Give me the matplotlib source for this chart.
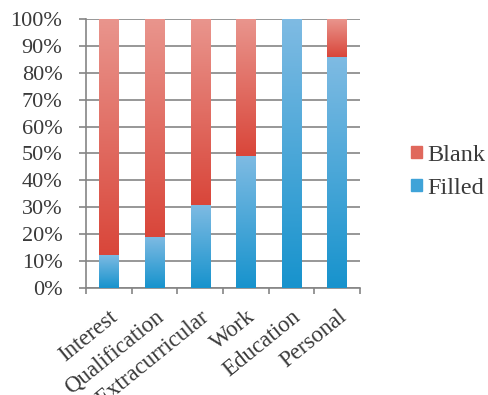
import matplotlib
matplotlib.use("Agg")
import matplotlib.pyplot as plt
import numpy as np
from matplotlib.colors import LinearSegmentedColormap
from matplotlib.patches import Patch

categories = ["Interest", "Qualification", "Extracurricular", "Work", "Education", "Personal"]
filled = [12.3, 19.1, 30.9, 49.2, 100.0, 85.9]
blank = [100 - v for v in filled]
yticks = [0, 10, 20, 30, 40, 50, 60, 70, 80, 90, 100]

plt.rcParams['font.family'] = 'serif'
plt.rcParams['font.serif'] = ['Liberation Serif', 'DejaVu Serif']

fig = plt.figure(figsize=(4.89, 3.95), dpi=100)
ax = fig.add_axes([0.176, 0.271, 0.56, 0.681])

x = np.arange(len(categories))
w = 0.42
b1 = ax.bar(x, filled, w, color="#3fa3d8", label="Filled", zorder=2)
b2 = ax.bar(x, blank, w, bottom=filled, color="#e0685c", label="Blank", zorder=2)

blue_cm = LinearSegmentedColormap.from_list("b", ["#1793cd", "#7fbbe3"])
red_cm = LinearSegmentedColormap.from_list("r", ["#d9463a", "#e9958d"])
grad = np.linspace(0, 1, 256).reshape(-1, 1)
for bars, cm in ((b1, blue_cm), (b2, red_cm)):
    for p in bars:
        x0, y0 = p.get_x(), p.get_y()
        ww, hh = p.get_width(), p.get_height()
        if hh <= 0:
            continue
        im = ax.imshow(grad, cmap=cm, aspect='auto', origin='lower',
                       extent=[x0, x0 + ww, y0, y0 + hh], zorder=3)
        im.set_clip_path(p)

ax.set_xlim(-0.5, len(categories) - 0.5)
ax.set_ylim(0, 100)
ax.set_yticks(yticks)
ax.set_yticklabels([f"{t}%" for t in yticks], fontsize=16, color="#3a3a3a")
ax.yaxis.grid(True, color="#858585", linewidth=1.2, zorder=1)
ax.set_axisbelow(True)
ax.tick_params(axis='y', length=5, color="#858585", width=1.2, pad=12)

ax.set_xticks(np.arange(len(categories) + 1) - 0.5, minor=False)
ax.set_xticklabels([])
ax.set_xticks(x, minor=True)
ax.set_xticklabels(categories, minor=True, rotation=39, ha='right', va='top',
                   rotation_mode='anchor', fontsize=16.5, color="#3a3a3a")
ax.tick_params(axis='x', which='major', length=4, color="#858585", width=1.2)
ax.tick_params(axis='x', which='minor', length=0, pad=13)

for s in ['top', 'right']:
    ax.spines[s].set_visible(False)
for s in ['left', 'bottom']:
    ax.spines[s].set_color("#858585")
    ax.spines[s].set_linewidth(1.2)

handles = [Patch(color="#e0685c", label="Blank"), Patch(color="#3fa3d8", label="Filled")]
fig.legend(handles=handles, loc='center left', bbox_to_anchor=(0.84, 0.565),
           frameon=False, fontsize=17.5, handlelength=0.45, handleheight=0.4,
           handletextpad=0.25, labelspacing=0.5, labelcolor="#3a3a3a",
           borderpad=0, borderaxespad=0)

fig.savefig("out.png", dpi=100)
